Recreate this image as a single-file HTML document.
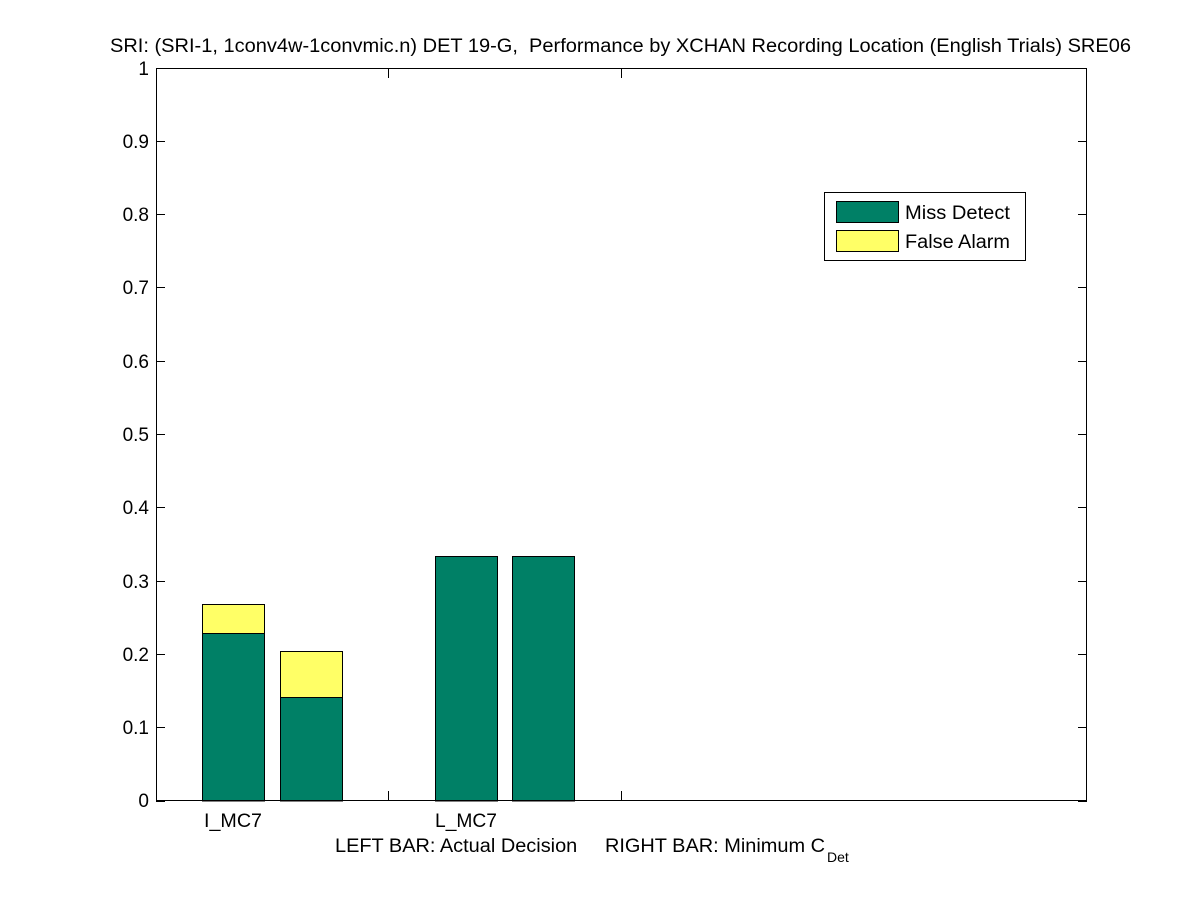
<!DOCTYPE html>
<html><head><style>body{margin:0;background:#fff}svg{display:block}text{font-family:"Liberation Sans",sans-serif;fill:#000;white-space:pre}</style></head><body>
<svg width="1201" height="900" xmlns="http://www.w3.org/2000/svg" xml:space="preserve">
<rect width="1201" height="900" fill="#fff"/>
<text x="110" y="52" font-size="19" textLength="1021" lengthAdjust="spacingAndGlyphs">SRI: (SRI-1, 1conv4w-1convmic.n) DET 19-G,  Performance by XCHAN Recording Location (English Trials) SRE06</text>
<g stroke="#000" stroke-width="1">
<rect x="202.5" y="633.5" width="62" height="167.5" fill="#008066"/>
<rect x="202.5" y="604.5" width="62" height="29" fill="#ffff66"/>
<rect x="280.5" y="697.5" width="62" height="103.5" fill="#008066"/>
<rect x="280.5" y="651.5" width="62" height="46" fill="#ffff66"/>
<rect x="435.5" y="556.5" width="62" height="244.5" fill="#008066"/>
<rect x="512.5" y="556.5" width="62" height="244.5" fill="#008066"/>
<rect x="156.5" y="68.5" width="930" height="732" fill="none"/>
<path d="M388.5 801V791M621.5 801V791M388.5 68V78M621.5 68V78"/>
<path d="M156 801.5h9M156 727.5h9M156 654.5h9M156 581.5h9M156 507.5h9M156 434.5h9M156 361.5h9M156 287.5h9M156 214.5h9M156 141.5h9M156 68.5h9"/>
<path d="M1087 801.5h-9M1087 727.5h-9M1087 654.5h-9M1087 581.5h-9M1087 507.5h-9M1087 434.5h-9M1087 361.5h-9M1087 287.5h-9M1087 214.5h-9M1087 141.5h-9M1087 68.5h-9"/>
<rect x="824.5" y="192.5" width="201" height="68" fill="#fff"/>
<rect x="836.5" y="201.5" width="62" height="21" fill="#008066"/>
<rect x="836.5" y="230.5" width="62" height="21" fill="#ffff66"/>
</g>
<g font-size="19" text-anchor="end">
<text x="149" y="807">0</text><text x="149" y="734">0.1</text><text x="149" y="661">0.2</text><text x="149" y="588">0.3</text><text x="149" y="514">0.4</text><text x="149" y="441">0.5</text><text x="149" y="368">0.6</text><text x="149" y="294">0.7</text><text x="149" y="221">0.8</text><text x="149" y="148">0.9</text><text x="149" y="75">1</text>
</g>
<text x="905" y="219" font-size="19" textLength="105" lengthAdjust="spacingAndGlyphs">Miss Detect</text>
<text x="905" y="248" font-size="19" textLength="105" lengthAdjust="spacingAndGlyphs">False Alarm</text>
<text x="204" y="827" font-size="19" textLength="58" lengthAdjust="spacingAndGlyphs">I_MC7</text>
<text x="435" y="827" font-size="19" textLength="62" lengthAdjust="spacingAndGlyphs">L_MC7</text>
<text x="335" y="852" font-size="19" textLength="490" lengthAdjust="spacingAndGlyphs">LEFT BAR: Actual Decision     RIGHT BAR: Minimum C</text>
<text x="827" y="862" font-size="14">Det</text>
</svg>
</body></html>
